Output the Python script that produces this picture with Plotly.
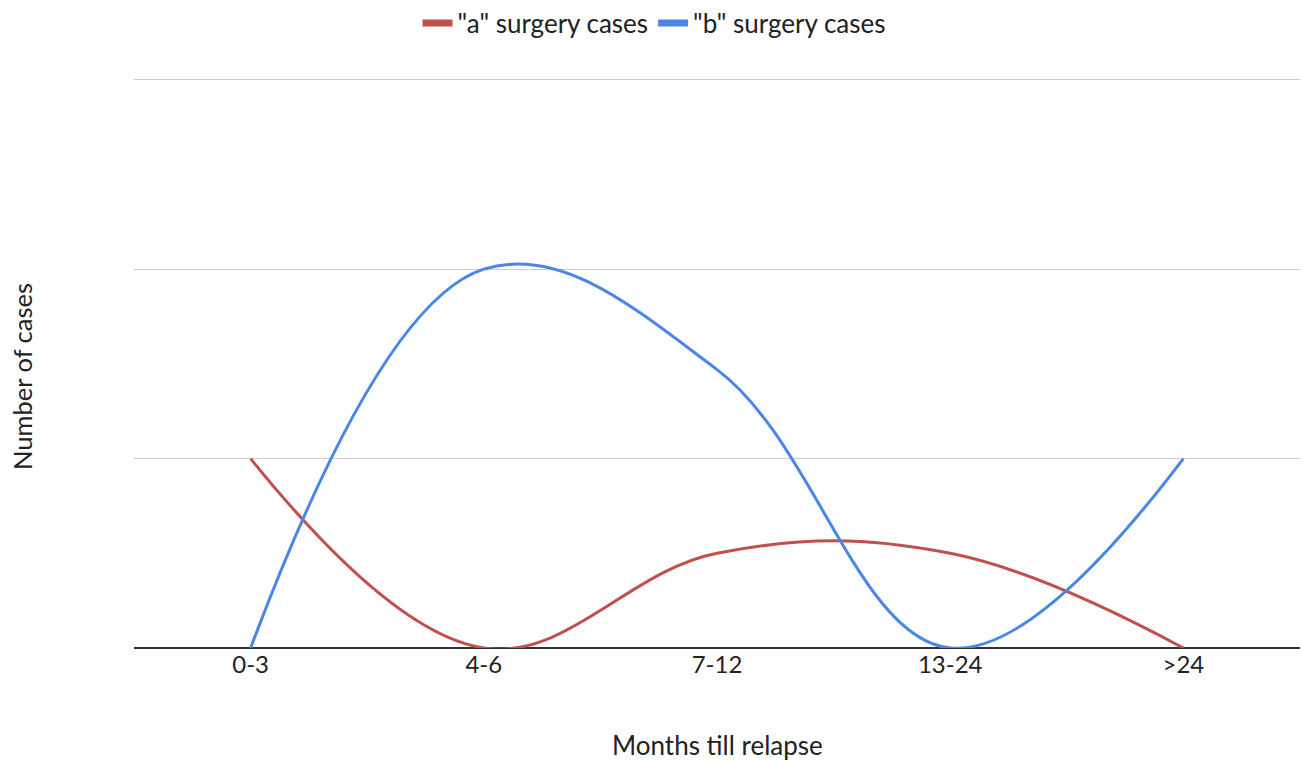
import plotly.graph_objects as go

categories = ["0-3", "4-6", "7-12", "13-24", ">24"]
a_cases = [1, 0, 0.5, 0.5, 0]
b_cases = [0, 2, 1.47, 0, 1]

series_names = ['"a" surgery cases', '"b" surgery cases']
series_colors = ["#c0504d", "#4a86e8"]

font = "Lato, Open Sans, sans-serif"
text_color = "#222222"

fig = go.Figure()
for vals, name, color in zip([a_cases, b_cases], series_names, series_colors):
    fig.add_trace(go.Scatter(x=categories, y=vals, name=name, mode="lines", showlegend=False,
                             line=dict(color=color, width=3, shape="spline", smoothing=1.12)))
# legend swatches (thick short bars like the reference)
for name, color in zip(series_names, series_colors):
    fig.add_trace(go.Scatter(x=[None], y=[None], name=name, mode="lines",
                             line=dict(color=color, width=7)))

ymax = 3.02
fig.update_layout(
    width=1303, height=761,
    margin=dict(l=134, r=3, t=76, b=113, autoexpand=False),
    paper_bgcolor="white", plot_bgcolor="white",
    font=dict(family=font, size=24, color=text_color),
    showlegend=True,
    legend=dict(orientation="h", x=(654 - 134) / 1166, xanchor="center",
                y=1 - 23 / 761, yref="container", yanchor="middle",
                font=dict(size=26, color=text_color),
                itemwidth=30, bgcolor="rgba(0,0,0,0)"),
    xaxis=dict(type="category", range=[-0.5, 4.5], showgrid=False, showline=False,
               zeroline=False, ticks="", automargin=False,
               tickfont=dict(size=24, color=text_color)),
    yaxis=dict(range=[0, ymax], dtick=1, showticklabels=False, showgrid=True,
               gridcolor="#cccccc", gridwidth=1, zeroline=True, zerolinecolor="#333333",
               zerolinewidth=1.5, showline=False, ticks="", automargin=False),
    annotations=[
        dict(text="Months till relapse", xref="paper", yref="paper", x=(717 - 134) / 1166,
             y=-(745 - 648) / 572, xanchor="center", yanchor="middle", showarrow=False,
             font=dict(size=26, color=text_color)),
        dict(text="Number of cases", xref="paper", yref="paper", x=-(134 - 22) / 1166,
             y=(648 - 377) / 572, xanchor="center", yanchor="middle", showarrow=False,
             textangle=-90, font=dict(size=25.5, color=text_color)),
    ],
)

fig.write_html("out.html", config={"displayModeBar": False},
               post_script="document.body.style.margin='0';document.body.style.overflow='hidden';")
